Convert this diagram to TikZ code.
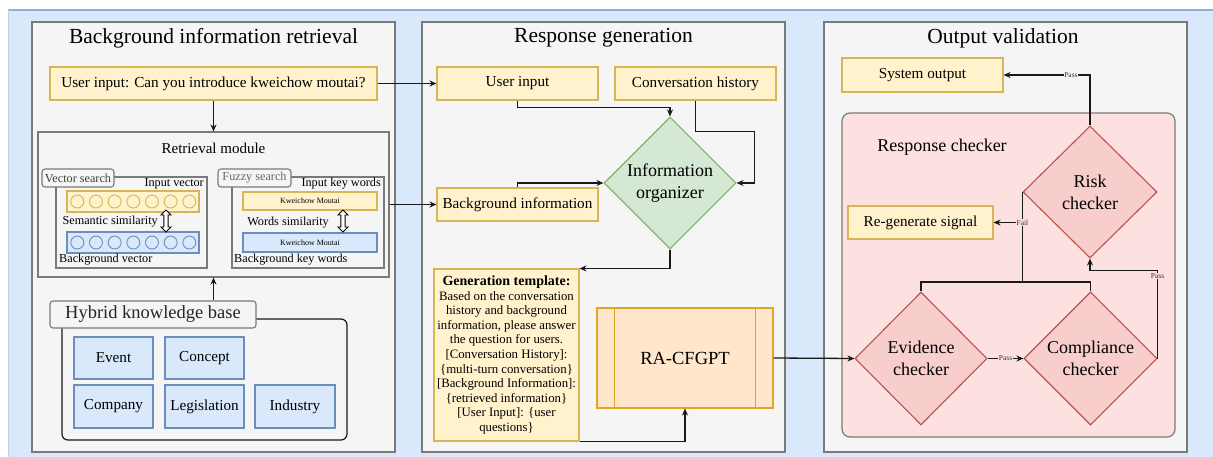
\documentclass[tikz,border=0pt]{standalone}
\usepackage{fontspec}
\setmainfont{Liberation Serif}
\usetikzlibrary{arrows.meta,positioning,shapes.geometric,shapes.arrows,calc}
\definecolor{bgblue}{HTML}{DAE8FC}
\definecolor{bgline}{HTML}{8FAFD8}
\definecolor{panelfill}{HTML}{F5F5F5}
\definecolor{panelline}{HTML}{7A7A7A}
\definecolor{yfill}{HTML}{FFF2CC}
\definecolor{yline}{HTML}{D6B656}
\definecolor{bfill}{HTML}{DAE8FC}
\definecolor{bline}{HTML}{6C8EBF}
\definecolor{gfill}{HTML}{D5E8D4}
\definecolor{gline}{HTML}{82B366}
\definecolor{rfill}{HTML}{F8CECC}
\definecolor{rline}{HTML}{B85450}
\definecolor{rcfill}{HTML}{FDE0E0}
\definecolor{ofill}{HTML}{FFE6CC}
\definecolor{oline}{HTML}{E0A521}

\begin{document}
\begin{tikzpicture}[x=1pt,y=-1pt,>=Stealth,
  panel/.style={draw=panelline,fill=panelfill,line width=1.2pt,inner sep=0},
  ttl/.style={font=\fontsize{21.5}{25}\selectfont,inner sep=0},
  ybox/.style={draw=yline,fill=yfill,line width=1.1pt,inner sep=0,font=\fontsize{15.2}{17}\selectfont},
  bbox/.style={draw=bline,fill=bfill,line width=1.1pt,inner sep=0,font=\fontsize{15.2}{17}\selectfont},
  frame/.style={draw=panelline,fill=panelfill,line width=1.1pt,inner sep=0},
  tag/.style={draw=panelline,fill=panelfill,line width=1.1pt,rounded corners=3pt,inner sep=0},
  small/.style={font=\fontsize{12.2}{14}\selectfont,inner sep=0},
  darr/.style={double arrow,draw,fill=white,line width=0.9pt,rotate=90,minimum height=22pt,
    minimum width=10pt,inner sep=1.3pt,double arrow head extend=2.5pt},
  gdia/.style={diamond,aspect=1,draw=gline,fill=gfill,line width=1.1pt,inner sep=0,align=center,
    font=\fontsize{18}{22}\selectfont},
  rdia/.style={diamond,aspect=1,draw=rline,fill=rfill,line width=1.1pt,inner sep=0,align=center,
    font=\fontsize{18}{22}\selectfont},
  conn/.style={draw=black!90,line width=1.3pt},
  arr/.style={conn,-{Stealth[length=7pt,width=6pt]}},
  lbl/.style={font=\fontsize{7.5}{8}\selectfont,fill=rcfill,inner sep=0.6pt,text=black!80}]
  \useasboundingbox (0,0) rectangle (1213,457);
  \fill[bgblue] (8,10) rectangle (1213,457);
  \draw[bgline,line width=1.5pt] (8,10) -- (1213,10);
  \draw[bgline!60,line width=1pt] (8,10) -- (8,457);

  \node[panel,minimum width=363,minimum height=430] (bir) at (213.5,237) {};
  \node[panel,minimum width=363,minimum height=430] (rg) at (603.5,237) {};
  \node[panel,minimum width=363,minimum height=430] (ov) at (1005.5,237) {};
  \node[ttl] (birttl) at (213.5,38) {Background information retrieval};
  \node[ttl] (rgttl) at (603.5,38) {Response generation};
  \node[ttl] (ovttl) at (1003,38) {Output validation};

  \node[ybox,minimum width=327,minimum height=33] (uin) at (213.5,83.5)
    {User input: Can you introduce kweichow moutai?};
  \node[frame,minimum width=351,minimum height=145] (ret) at (213.5,204.5) {};
  \node[font=\fontsize{15}{17}\selectfont,inner sep=0] (retttl) at (213.5,148) {Retrieval module};

  \node[frame,minimum width=151,minimum height=91] (vs) at (131.5,222.5) {};
  \node[tag,minimum width=72,minimum height=18,small,text=black!75] (vslbl) at (78,178) {Vector search};
  \node[small,anchor=east] (ivlbl) at (204,183.5) {Input vector};
  \node[draw=yline,fill=yfill,line width=1.1pt,minimum width=132,minimum height=21] (ivec) at (133,201.5) {};
  \node[draw=bline,fill=bfill,line width=1.1pt,minimum width=132,minimum height=21] (bvec) at (133,242.5) {};
  \foreach \i in {0,...,6} {
    \draw[yline,line width=0.9pt] (77.3+18.67*\i,201.5) circle (6.5);
    \draw[bline,line width=0.9pt] (77.3+18.67*\i,242.5) circle (6.5);
  }
  \node[darr] (semarr) at (166,221) {};
  \node[small,anchor=east] (semlbl) at (158,222) {Semantic similarity};
  \node[small,anchor=west] (bvlbl) at (59,260) {Background vector};

  \node[frame,minimum width=152,minimum height=91] (fs) at (308,222.5) {};
  \node[tag,minimum width=73,minimum height=18,small,text=black!60] (fslbl) at (254.5,178) {Fuzzy search};
  \node[small,anchor=east] (iklbl) at (381,184) {Input key words};
  \node[ybox,minimum width=134,minimum height=18,font=\fontsize{8}{9}\selectfont] (ikw) at (310,201) {Kweichow Moutai};
  \node[bbox,minimum width=134,minimum height=19,font=\fontsize{8}{9}\selectfont] (bkw) at (310,242.5) {Kweichow Moutai};
  \node[darr] (wrdarr) at (343,221) {};
  \node[small,anchor=east] (wrdlbl) at (329,222.5) {Words similarity};
  \node[small,anchor=west] (bklbl) at (234,260) {Background key words};

  \node[draw=black!90,line width=1.2pt,rounded corners=6pt,minimum width=285,minimum height=121] (hkb) at (204.5,379.5) {};
  \node[tag,minimum width=206,minimum height=27,font=\fontsize{18.5}{21}\selectfont,text=black!85] (hkblbl) at (153,314.5) {Hybrid knowledge base};
  \node[bbox,minimum width=79,minimum height=42] (event) at (113.5,358) {Event};
  \node[bbox,minimum width=79,minimum height=42] (concept) at (204.5,358) {Concept};
  \node[bbox,minimum width=79,minimum height=43] (company) at (113.5,406.5) {Company};
  \node[bbox,minimum width=79,minimum height=43] (legis) at (204.5,406.5) {Legislation};
  \node[bbox,minimum width=80,minimum height=43] (industry) at (295,406.5) {Industry};

  \node[ybox,minimum width=161,minimum height=33] (ui2) at (517.5,83.5) {User input};
  \node[ybox,minimum width=161,minimum height=33] (ch) at (695.5,83.5) {Conversation history};
  \node[ybox,minimum width=161,minimum height=33] (bgi) at (517.5,204.5) {Background information};
  \node[gdia,minimum width=132,minimum height=132] (org) at (670,183) {Information\\organizer};
  \node[ybox,minimum width=145,minimum height=172,align=center,font=\fontsize{12.8}{14.6}\selectfont] (tpl) at (506.5,355)
    {\textbf{\fontsize{14}{14.6}\selectfont Generation template:}\\Based on the conversation\\history and background\\
     information, please answer\\the question for users.\\{}[Conversation History]:\\\{multi-turn conversation\}\\
     {}[Background Information]:\\\{retrieved information\}\\{}[User Input]: \{user\\questions\}};
  \node[draw=oline,fill=ofill,line width=1.1pt,minimum width=176,minimum height=100,
    font=\fontsize{18.5}{22}\selectfont] (ra) at (685,358) {RA-CFGPT};
  \draw[oline,line width=1.1pt] ([xshift=18pt]ra.north west) -- ([xshift=18pt]ra.south west)
    ([xshift=-18pt]ra.north east) -- ([xshift=-18pt]ra.south east);

  \node[ybox,minimum width=161,minimum height=34] (so) at (922.5,75) {System output};
  \node[draw=panelline,fill=rcfill,line width=1.2pt,rounded corners=8pt,minimum width=333,minimum height=324] (rc) at (1008.5,275) {};
  \node[font=\fontsize{18}{21}\selectfont,inner sep=0] (rcttl) at (942,147) {Response checker};
  \node[rdia,minimum width=134,minimum height=132] (risk) at (1090,192) {Risk\\checker};
  \node[ybox,minimum width=145,minimum height=33] (regen) at (920.5,222.5) {Re-generate signal};
  \node[rdia,minimum width=132,minimum height=133] (ev) at (921,358.5) {Evidence\\checker};
  \node[rdia,minimum width=133,minimum height=133] (co) at (1090.5,358.5) {Compliance\\checker};
  \coordinate (failjoin) at (risk.west |- 0,282);

  \draw[arr] (uin.south) -- (ret.north);
  \draw[arr] (hkblbl.north -| ret.south) -- (ret.south);
  \draw[arr] (uin.east) -- (ui2.west);
  \draw[arr] (ret.east) -- (bgi.west);
  \draw[arr] (ui2.south) -- ++(0,7) -| (org.north);
  \draw[arr] (ch.south) -- ++(0,31) -| ([xshift=18pt]org.east) -- (org.east);
  \draw[arr] (bgi.north) |- (org.west);
  \draw[arr] (org.south) |- (tpl.north east);
  \draw[arr] (tpl.south east) -| (ra.south);
  \draw[arr] (ra.east) -- (ev.west);
  \draw[arr] (ev.east) -- node[lbl] {Pass} (co.west);
  \draw[arr] (co.east) |- node[lbl,pos=0.47] {Pass} ($(risk.south)+(0,12)$) -- (risk.south);
  \draw[arr] (risk.north) |- node[lbl,pos=0.61,fill=panelfill] {Pass} (so.east);
  \draw[conn] (ev.north) |- (failjoin) -| (co.north);
  \draw[conn] (risk.west) -- (failjoin);
  \draw[arr] (risk.west |- regen.east) -- node[lbl,pos=0] {Fail} (regen.east);
\end{tikzpicture}
\end{document}
